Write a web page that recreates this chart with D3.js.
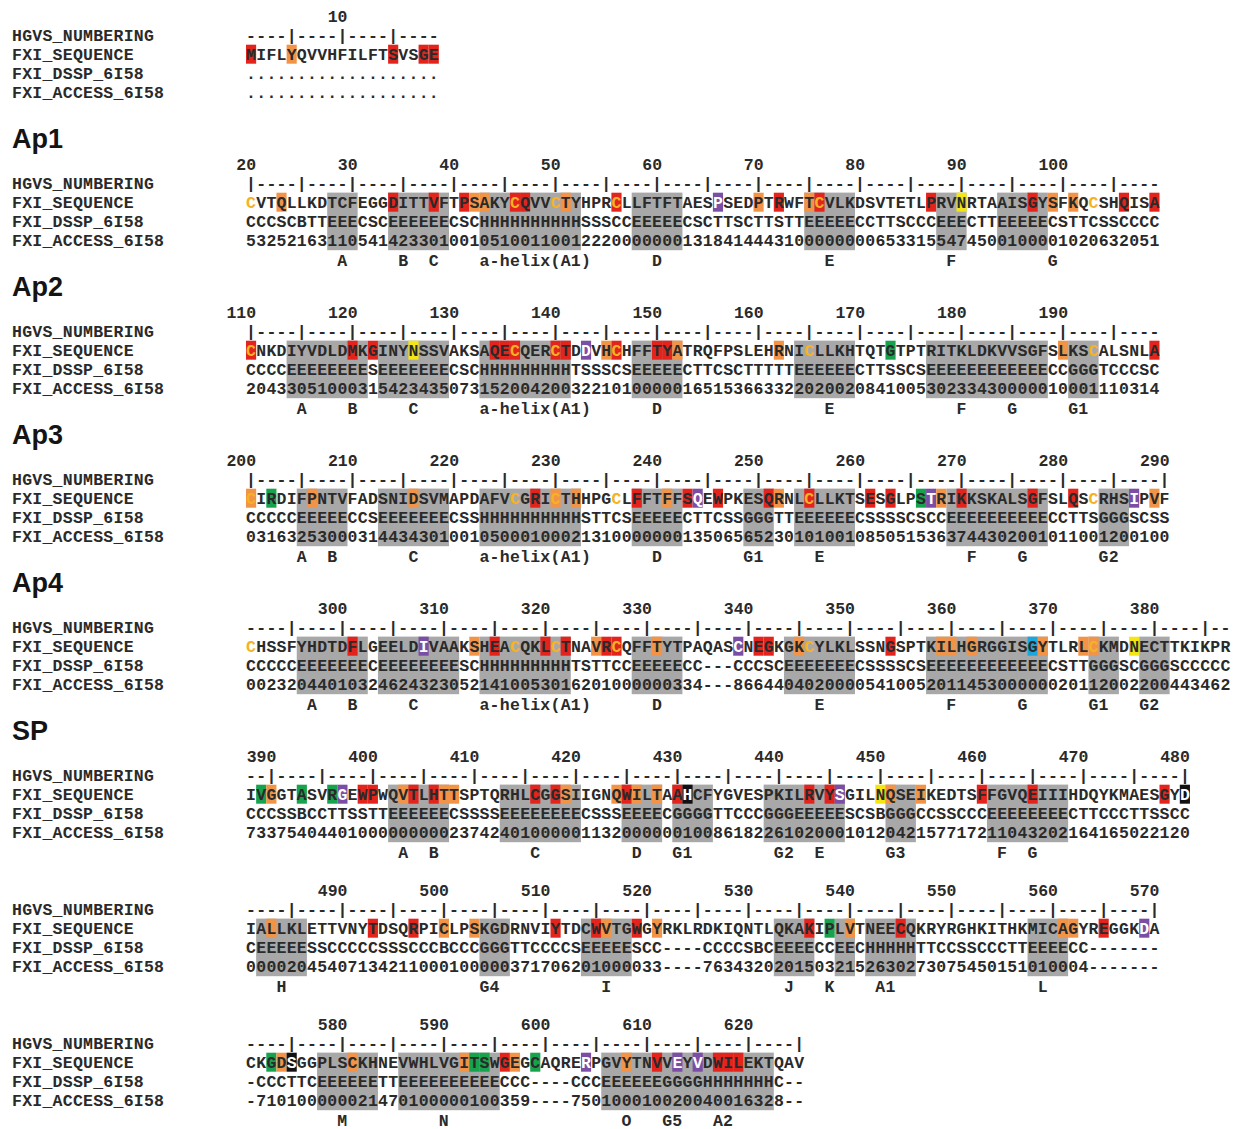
<!DOCTYPE html>
<html lang="en">
<head>
<meta charset="UTF-8">
<title>FXI sequence, DSSP and accessibility</title>
<script src="https://d3js.org/d3.v7.min.js"></script>
<style>
    body {
        margin: 0;
        background: #fff;
    }
    svg text {
        font-family: "Liberation Mono", "DejaVu Sans Mono", monospace;
        font-weight: bold;
        font-size: 16.5px;
        fill: #2a2a2a;
    }
    svg text.head {
        font-family: "Liberation Sans", Arial, sans-serif;
        font-size: 27px;
        fill: #141414;
    }
</style>
</head>
<body>
<svg id="chart"></svg>
<script>
    // one entry per printed block
    const blockNames = ["", "Ap1", "Ap2", "Ap3", "Ap4", "SP", "", ""];
    const blockStarts = [1, 20, 110, 200, 291, 388, 481, 571];
    const blockEnds = [19, 109, 199, 290, 387, 480, 570, 625];
    const rowNames = ["HGVS_NUMBERING", "FXI_SEQUENCE", "FXI_DSSP_6I58", "FXI_ACCESS_6I58"];

    const seqRows = [
        "MIFLYQVVHFILFTSVSGE",
        "CVTQLLKDTCFEGGDITTVFTPSAKYCQVVCTYHPRCLLFTFTAESPSEDPTRWFTCVLKDSVTETLPRVNRTAAISGYSFKQCSHQISA",
        "CNKDIYVDLDMKGINYNSSVAKSAQECQERCTDDVHCHFFTYATRQFPSLEHRNICLLKHTQTGTPTRITKLDKVVSGFSLKSCALSNLA",
        "CIRDIFPNTVFADSNIDSVMAPDAFVCGRICTHHPGCLFFTFFSQEWPKESQRNLCLLKTSESGLPSTRIKKSKALSGFSLQSCRHSIPVF",
        "CHSSFYHDTDFLGEELDIVAAKSHEACQKLCTNAVRCQFFTYTPAQASCNEGKGKCYLKLSSNGSPTKILHGRGGISGYTLRLCKMDNECTTKIKPR",
        "IVGGTASVRGEWPWQVTLHTTSPTQRHLCGGSIIGNQWILTAAHCFYGVESPKILRVYSGILNQSEIKEDTSFFGVQEIIIHDQYKMAESGYD",
        "IALLKLETTVNYTDSQRPICLPSKGDRNVIYTDCWVTGWGYRKLRDKIQNTLQKAKIPLVTNEECQKRYRGHKITHKMICAGYREGGKDA",
        "CKGDSGGPLSCKHNEVWHLVGITSWGEGCAQRERPGVYTNVVEYVDWILEKTQAV"
    ];

    const dsspRows = [
        "...................",
        "CCCSCBTT" + "EEE" + "CSC" + "EEEEEE" + "CSC" + "HHHHHHHHHH" + "SSS" + "CC" + "EEEEE" + "CSCTTSCTTSTT" + "EEEEE" + "CCTTSCCC" + "EEE" + "CTT" + "EEEEE" + "CSTTCSSCCCC",
        "CCCC" + "EEEEEEEE" + "S" + "EEEEEEE" + "CSC" + "HHHHHHHHH" + "TSSSCS" + "EEEEE" + "CTTCSCTTTTT" + "EEEEEE" + "CTTSSCS" + "EEEEEEEEEEEE" + "CC" + "GGG" + "TCCCSC",
        "CCCCC" + "EEEEE" + "CCS" + "EEEEEEE" + "CSS" + "HHHHHHHHHH" + "STTCS" + "EEEEE" + "CTTCSS" + "GGG" + "TT" + "EEEEEE" + "CSSSSCSCC" + "EEEEEEEEEE" + "CCTTS" + "GGG" + "SCSS",
        "CCCCC" + "EEEEEEE" + "C" + "EEEEEEEE" + "SC" + "HHHHHHHHH" + "TSTTCC" + "EEEEE" + "CC---CCCSC" + "EEEEEEE" + "CSSSSCS" + "EEEEEEEEEEEE" + "CSTT" + "GGG" + "SC" + "GGG" + "SCCCCC",
        "CCCSSBCCTTSSTT" + "EEEEEE" + "CSSSS" + "EEEEEEEE" + "CSSS" + "EEEE" + "C" + "GGGG" + "TTCCC" + "GGGEEEEE" + "SCSB" + "GGG" + "CCSSCCC" + "EEEEEEEE" + "CTTCCCTTSSCC",
        "C" + "EEEEE" + "SSCCCCCSSSCCCBCCC" + "GGG" + "TTCCCCS" + "EEEEE" + "SCC----CCCCSBC" + "EEEE" + "CC" + "EE" + "C" + "HHHHH" + "TTCCSSCCCTT" + "EEEE" + "CC-------",
        "-CCCTTC" + "EEEEEE" + "TT" + "EEEEEEEEEE" + "CCC----CCC" + "EEEEEEGGGGHHHHHHH" + "C--"
    ];

    const accessRows = [
        "...................",
        "5325216311" + "0541423301" + "0010510011" + "0012220000" + "0001318414" + "4431000000" + "0065331554" + "7450010000" + "1020632051",
        "2043305100" + "0315423435" + "0731520042" + "0032210100" + "0001651536" + "6332202002" + "0841005302" + "3343000001" + "0001110314",
        "0316325300" + "0314434301" + "0010500010" + "0021310000" + "0001350" + "6565230101" + "0010850515" + "3637443020" + "0101100120" + "0100",
        "0023204401" + "0324624323" + "0521410053" + "0162010000" + "00334" + "---" + "8664404020" + "0005410052" + "0114530000" + "0020112002" + "200443462",
        "73375404401" + "000000000" + "237424010" + "0000113200" + "0000100861" + "8226102000" + "1012042157" + "7172110432" + "0216416502" + "2120",
        "0000204540" + "7134211000" + "1000003717" + "0620100003" + "3----" + "76" + "343" + "2020150321" + "5263027307" + "5450151010" + "004" + "-------",
        "-710100000" + "0214701000" + "00100359" + "----" + "7501000100" + "2004001632" + "8--"
    ];

    // secondary structure element names, [first residue, text]
    const structLabels = [
        [],
        [[29, "A"], [35, "B"], [38, "C"], [43, "a-helix(A1)"], [60, "D"], [77, "E"], [89, "F"], [99, "G"]],
        [[115, "A"], [120, "B"], [126, "C"], [133, "a-helix(A1)"], [150, "D"], [167, "E"], [180, "F"], [185, "G"], [191, "G1"]],
        [[205, "A"], [208, "B"], [216, "C"], [223, "a-helix(A1)"], [240, "D"], [249, "G1"], [256, "E"], [271, "F"], [276, "G"], [284, "G2"]],
        [[297, "A"], [301, "B"], [307, "C"], [314, "a-helix(A1)"], [331, "D"], [347, "E"], [360, "F"], [367, "G"], [374, "G1"], [379, "G2"]],
        [[403, "A"], [406, "B"], [416, "C"], [426, "D"], [430, "G1"], [440, "G2"], [444, "E"], [451, "G3"], [462, "F"], [465, "G"]],
        [[484, "H"], [504, "G4"], [516, "I"], [534, "J"], [538, "K"], [543, "A1"], [559, "L"]],
        [[580, "M"], [590, "N"], [608, "O"], [612, "G5"], [617, "A2"]]
    ];

    // highlighted residues by box colour
    const redSites = [1, 15, 18, 19, 34, 38, 41, 46, 47, 56, 72, 76, 87, 97, 106, 109, 110, 120, 122, 134, 135, 136,
        140, 141, 146, 150, 151, 199, 228, 238, 243, 246, 251, 255, 261, 263, 270, 277, 281, 301, 315, 320, 322, 326,
        327, 341, 342, 354, 399, 400, 404, 406, 416, 418, 425, 430, 443, 445, 460, 465, 478, 493, 497, 511, 515, 519,
        536, 545, 565, 596, 611, 617, 618, 619];
    const orangeSites = [5, 23, 42, 43, 51, 70, 75, 99, 101, 145, 152, 162, 190, 200, 206, 216, 230, 232, 241, 252,
        268, 289, 313, 325, 331, 345, 359, 360, 362, 369, 373, 374, 390, 403, 407, 408, 419, 424, 426, 428, 451, 454,
        483, 500, 503, 516, 521, 540, 561, 562, 574, 581, 592, 597, 608];
    const purpleSites = [66, 143, 244, 267, 287, 308, 339, 397, 446, 569, 604, 613, 615];
    const yellowSites = [90, 126, 378, 450];
    const greenSites = [173, 202, 266, 389, 393, 396, 538, 573, 593, 594, 599];
    const blueSites = [368];
    const blackSites = [431, 480, 575];
    // cysteines printed in gold
    const goldCys = [20, 46, 50, 56, 76, 103, 110, 136, 140, 146, 165, 193, 200, 226, 230, 236, 255, 283, 291, 317,
        321, 327, 346, 374];

    const colors = {
        red: "#e3241d", orange: "#f29447", purple: "#7a4ea5", yellow: "#f3e614",
        green: "#17a24d", blue: "#1ba6de", black: "#111111", shade: "#a8a8a8", cys: "#f5b225", text: "#2a2a2a"
    };

    let boxColor = new Map();
    redSites.forEach(p => boxColor.set(p, colors.red));
    orangeSites.forEach(p => boxColor.set(p, colors.orange));
    purpleSites.forEach(p => boxColor.set(p, colors.purple));
    yellowSites.forEach(p => boxColor.set(p, colors.yellow));
    greenSites.forEach(p => boxColor.set(p, colors.green));
    blueSites.forEach(p => boxColor.set(p, colors.blue));
    blackSites.forEach(p => boxColor.set(p, colors.black));
    let whiteText = new Set(purpleSites.concat(blackSites));
    let cysSet = new Set(goldCys);

    const width = 1235, height = 1129;
    const cw = 10.15, x0 = 246, rowH = 19.2;

    const svg = d3.select("#chart")
        .attr("width", width)
        .attr("height", height);

    // row index -> vertical offset from the tick row
    const y = d3.scaleLinear().domain([0, 1]).range([0, rowH]);

    let blockTop = 35;
    blockStarts.forEach((start, b) => {
        if (b > 0) blockTop += 134 + (blockNames[b] ? 14 : 0);
        const end = blockEnds[b];
        const positions = d3.range(start, end + 1);
        const x = d3.scaleLinear().domain([start, start + 1]).range([x0, x0 + cw]);

        const g = svg.append("g")
            .attr("transform", `translate(0, ${blockTop})`);

        if (blockNames[b]) {
            g.append("text")
                .attr("class", "head")
                .attr("x", 12)
                .attr("y", -35)
                .text(blockNames[b]);
        }

        // left row names
        g.selectAll("text.rowname")
            .data(rowNames)
            .join("text")
            .attr("class", "rowname")
            .attr("x", 12)
            .attr("y", (d, i) => y(i))
            .attr("dy", "0.35em")
            .style("letter-spacing", "0.25px")
            .text(d => d);

        // grey boxes over strands, helices and 3-10 helices
        const dssp = dsspRows[b];
        let runs = [];
        positions.forEach((p, i) => {
            if (/[EHG]/.test(dssp[i])) {
                if (runs.length && runs[runs.length - 1][1] === p - 1) runs[runs.length - 1][1] = p;
                else runs.push([p, p]);
            }
        });
        g.selectAll("rect.shade")
            .data(runs)
            .join("rect")
            .attr("class", "shade")
            .attr("x", d => x(d[0]))
            .attr("width", d => x(d[1] + 1) - x(d[0]))
            .attr("y", y(1) - rowH / 2)
            .attr("height", y(3) - y(1) + rowH)
            .attr("fill", colors.shade);

        // coloured residue boxes
        g.selectAll("rect.res")
            .data(positions.filter(p => boxColor.has(p)))
            .join("rect")
            .attr("class", "res")
            .attr("x", p => x(p))
            .attr("width", cw)
            .attr("y", y(1) - 9.5)
            .attr("height", 19)
            .attr("fill", p => boxColor.get(p));

        // numbering above every tenth residue, last digit over the residue
        g.selectAll("text.num")
            .data(positions.filter(p => p % 10 === 0))
            .join("text")
            .attr("class", "num")
            .attr("x", p => x(p + 1))
            .attr("y", y(-1))
            .attr("dy", "0.35em")
            .attr("text-anchor", "end")
            .text(p => p);

        const rows = [
            {r: 0, chars: positions.map(p => p % 5 === 0 ? "|" : "-")},
            {r: 1, chars: seqRows[b].split(""), seq: true},
            {r: 2, chars: dssp.split("")},
            {r: 3, chars: accessRows[b].split("")}
        ];
        rows.forEach(row => {
            g.selectAll("text.r" + row.r)
                .data(row.chars)
                .join("text")
                .attr("class", "r" + row.r)
                .attr("x", (d, i) => x(start + i) + cw / 2)
                .attr("y", y(row.r))
                .attr("dy", "0.35em")
                .attr("text-anchor", "middle")
                .style("fill", (d, i) => {
                    if (!row.seq) return colors.text;
                    let p = start + i;
                    if (whiteText.has(p)) return "#ffffff";
                    if (cysSet.has(p)) return colors.cys;
                    return colors.text;
                })
                .text(d => d);
        });

        // element names under the accessibility row
        g.selectAll("text.elem")
            .data(structLabels[b])
            .join("text")
            .attr("class", "elem")
            .attr("x", d => x(d[0]))
            .attr("y", y(4))
            .attr("dy", "0.35em")
            .style("letter-spacing", "0.25px")
            .text(d => d[1]);
    });
</script>
</body>
</html>
